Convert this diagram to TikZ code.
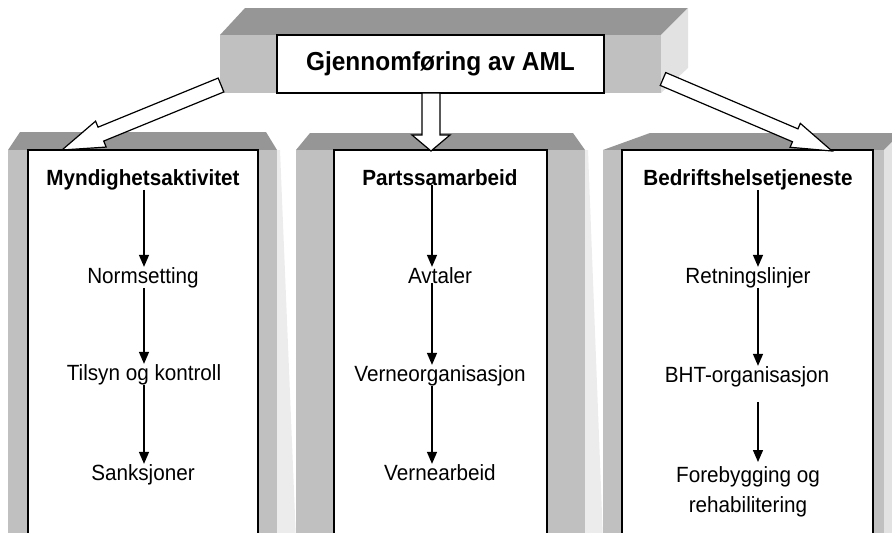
\documentclass[tikz,border=0pt]{standalone}
\usepackage{fontspec}
\setmainfont{Liberation Sans}[FakeStretch=0.94]
\usetikzlibrary{arrows.meta,calc}

\definecolor{topface}{gray}{0.59}
\definecolor{frontface}{gray}{0.753}
\definecolor{sideface}{gray}{0.885}
\definecolor{sidelight}{gray}{0.925}

\tikzset{
  blockarrow/.style={draw=black, fill=white, line width=1.2pt, line join=miter},
  flow/.style={line width=1.4pt, -{Triangle[length=12pt,width=10pt]}},
  whitebox/.style={draw=black, fill=white, line width=1.2pt, inner sep=0pt, outer sep=0pt},
  itemtext/.style={font=\fontsize{22}{30}\selectfont, inner sep=0pt, anchor=base},
  colhead/.style={itemtext, font=\fontsize{22}{30}\selectfont\bfseries},
}

% hollow block arrow: tail, tip, shaft half width, head half width, head length
\newcommand\hollowarrow[5]{%
  \coordinate (ha-c) at ($(#2)!#5!(#1)$);
  \draw[blockarrow] ($(#1)!#3!90:(#2)$) -- ($(ha-c)!#3!-90:(#1)$)
    -- ($(ha-c)!#4!-90:(#1)$) -- (#2) -- ($(ha-c)!#4!90:(#1)$)
    -- ($(ha-c)!#3!90:(#1)$) -- ($(#1)!#3!-90:(#2)$) -- cycle;}

\begin{document}
\begin{tikzpicture}[x=1pt, y=-1pt]
\useasboundingbox (0,0) rectangle (892,533);
\begin{scope}
\clip (0,0) rectangle (892,533);

% top block (cube)
\fill[topface] (220,35) -- (245,8) -- (688,8) -- (661,35) -- cycle;
\fill[sideface] (661,35) -- (688,8) -- (688,68) -- (661,93) -- cycle;
\fill[frontface] (220,35) rectangle (661,93);
\node[whitebox, minimum width=327pt, minimum height=58pt,
      font=\fontsize{26}{30}\selectfont\bfseries] (top) at (440.5,64)
      {Gjennomføring av AML};

% column 1
\fill[topface] (8,150) -- (20,132) -- (266,132) -- (277,150) -- cycle;
\fill[sidelight] (277,150) -- (280,150) -- (296,540) -- (277,540) -- cycle;
\fill[frontface] (8,150) rectangle (277,540);
\node[whitebox, anchor=north west, minimum width=230pt, minimum height=390pt] (col1) at (28,150) {};

% column 2
\fill[topface] (296,150) -- (310,133) -- (573,133) -- (585,150) -- cycle;
\fill[sidelight] (585,150) -- (588,150) -- (603,540) -- (585,540) -- cycle;
\fill[frontface] (296,150) rectangle (585,540);
\node[whitebox, anchor=north west, minimum width=213pt, minimum height=390pt] (col2) at (334,150) {};

% column 3
\fill[topface] (603,150) -- (650,133) -- (901,133) -- (884,150) -- cycle;
\fill[sideface] (884,150) -- (901,133) -- (901,540) -- (884,540) -- cycle;
\fill[frontface] (603,150) rectangle (884,540);
\node[whitebox, anchor=north west, minimum width=251pt, minimum height=390pt] (col3) at (622,150) {};

% block arrows from the top block to the columns
\coordinate (l-tail) at (221,85);
\coordinate (l-tip) at (62,150);
\coordinate (m-tail) at (431,93);
\coordinate (m-tip) at (431,151);
\coordinate (r-tail) at (663,79);
\coordinate (r-tip) at (832,151);
\hollowarrow{l-tail}{l-tip}{7.5pt}{14pt}{42pt}
\hollowarrow{m-tail}{m-tip}{9pt}{19pt}{16pt}
\hollowarrow{r-tail}{r-tip}{7pt}{13pt}{40pt}

% column 1 texts
\node[colhead] (a0) at (143,185) {Myndighetsaktivitet};
\node[itemtext] (a1) at (143,283) {Normsetting};
\node[itemtext] (a2) at (144,380) {Tilsyn og kontroll};
\node[itemtext] (a3) at (143,480) {Sanksjoner};
\coordinate (ax) at (144,0);
\draw[flow] (a0.south -| ax) -- (a1.north -| ax);
\draw[flow] (a1.south -| ax) -- (a2.north -| ax);
\draw[flow] (a2.south -| ax) -- (a3.north -| ax);

% column 2 texts
\node[colhead] (b0) at (440,185) {Partssamarbeid};
\node[itemtext] (b1) at (440,283) {Avtaler};
\node[itemtext] (b2) at (440,381) {Verneorganisasjon};
\node[itemtext] (b3) at (440,480) {Vernearbeid};
\coordinate (bx) at (432,0);
\draw[flow] (b0.south -| bx) -- (b1.north -| bx);
\draw[flow] (b1.south -| bx) -- (b2.north -| bx);
\draw[flow] (b2.south -| bx) -- (b3.north -| bx);

% column 3 texts
\node[colhead] (c0) at (748,185) {Bedriftshelsetjeneste};
\node[itemtext] (c1) at (748,283) {Retningslinjer};
\node[itemtext] (c2) at (747,382) {BHT-organisasjon};
\node[itemtext, anchor=north, align=center] (c3) at (748,466) {Forebygging og\\rehabilitering};
\coordinate (cx) at (758,0);
\draw[flow] (c0.south -| cx) -- (c1.north -| cx);
\draw[flow] (c1.south -| cx) -- (c2.north -| cx);
\draw[flow, shorten <=15pt] (c2.south -| cx) -- ($(c3.north -| cx)+(0,-4)$);
\end{scope}
\end{tikzpicture}
\end{document}
